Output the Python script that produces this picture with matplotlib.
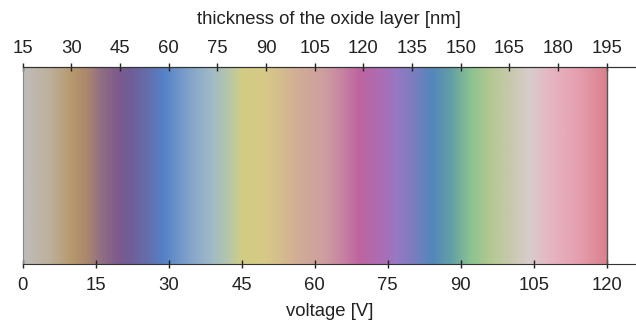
import numpy as np
import matplotlib
matplotlib.use("Agg")
import matplotlib.pyplot as plt
from matplotlib.colors import LinearSegmentedColormap

plt.rcParams['font.family'] = ['Liberation Sans', 'DejaVu Sans']

# colour stops: voltage [V] -> RGB
stop_v = [0, 5, 10, 13, 16, 19.5, 22, 25.5, 29, 34, 38.5, 42, 45, 50, 56.6,
          62, 65.6, 69, 74, 76.5, 80, 84, 88, 92, 96, 100, 104, 108, 113.8, 120]
stop_rgb = [(190, 188, 185), (190, 178, 160), (182, 152, 108), (172, 135, 110),
            (145, 110, 132), (125, 90, 140), (112, 94, 152), (100, 110, 172),
            (85, 130, 200), (130, 162, 202), (160, 185, 200), (180, 198, 172),
            (210, 205, 130), (215, 200, 135), (210, 172, 150), (205, 158, 160),
            (200, 130, 162), (190, 100, 160), (170, 110, 182), (152, 120, 196),
            (125, 125, 190), (82, 135, 188), (100, 160, 165), (140, 195, 145),
            (180, 200, 145), (200, 200, 172), (215, 205, 205), (230, 182, 195),
            (230, 160, 175), (218, 128, 142)]

v_max = 120
bottom_ticks = np.arange(0, 121, 15)
top_ticks = np.arange(15, 196, 15)

cmap = LinearSegmentedColormap.from_list(
    "oxide", [(v / v_max, tuple(c / 255 for c in rgb)) for v, rgb in zip(stop_v, stop_rgb)], N=1024)

fig = plt.figure(figsize=(6.36, 3.23), dpi=100)
ax = fig.add_axes([22.7 / 636, 59 / 323, 613.3 / 636, 197 / 323])

strip = np.linspace(0, v_max, 1200).reshape(1, -1)
ax.imshow(strip, cmap=cmap, vmin=0, vmax=v_max, aspect='auto',
          extent=[0, v_max, 0, 0.99], interpolation='bilinear')
ax.axvline(v_max, ymin=0, ymax=0.99, color='#555555', lw=1)
ax.set_xlim(0, 126)
ax.set_ylim(0, 1)
ax.set_yticks([])
ax.spines['right'].set_visible(False)
for s in ['left', 'top', 'bottom']:
    ax.spines[s].set_color('#333333')
ax.spines['left'].set_color('#888888')

fs = 13.3
ax.set_xticks(bottom_ticks)
ax.tick_params(axis='x', direction='inout', length=6, width=1, pad=6.5,
               labelsize=fs, colors='#222222')
ax.set_xlabel("voltage [V]", fontsize=fs, labelpad=6.5, color='#222222')

top = ax.secondary_xaxis('top', functions=(lambda v: 15 + 1.5 * v, lambda t: (t - 15) / 1.5))
top.set_xticks(top_ticks)
top.tick_params(direction='inout', length=6, width=1, pad=4, labelsize=fs, colors='#222222')
top.set_xlabel("thickness of the oxide layer [nm]", fontsize=fs, labelpad=12, color='#222222')
top.spines['top'].set_color('#333333')

fig.savefig("out.png", dpi=100)
